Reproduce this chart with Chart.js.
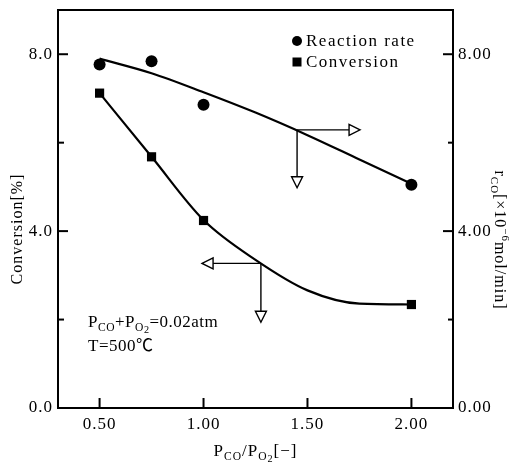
<!DOCTYPE html>
<html><head><meta charset="utf-8">
<script src="https://cdn.jsdelivr.net/npm/chart.js@4/dist/chart.umd.min.js"></script>
<style>html,body{margin:0;padding:0;background:#fff;}#wrap{width:518px;height:464px;position:relative;}</style>
</head><body><div id="wrap"><canvas id="c" width="518" height="464"></canvas></div>
<script>
// ---- data ----
const ratioX = [0.5, 0.75, 1.0, 2.0];
const reactionRate = [7.77, 7.84, 6.86, 5.05];   // right axis, x10^-6 mol/min
const conversion = [7.12, 5.68, 4.24, 2.34];     // left axis, %
const fitX = [0.5, 0.75, 1.0, 1.25, 1.5, 1.75, 2.0];
const rateFit = [7.90, 7.57, 7.14, 6.68, 6.17, 5.62, 5.07];
const convFit = [7.12, 5.68, 4.25, 3.35, 2.66, 2.36, 2.34];
const xTicks = [0.5, 1.0, 1.5, 2.0];
const xTickLabels = ['0.50', '1.00', '1.50', '2.00'];
const yTicks = [0, 2, 4, 6, 8];
const leftTickLabels = {0: '0.0', 4: '4.0', 8: '8.0'};
const rightTickLabels = {0: '0.00', 4: '4.00', 8: '8.00'};
const seriesNames = ['Reaction rate', 'Conversion'];
// arrows: start point on curve, tip positions
const arrowFromX = [1.45, 1.276];
const arrowFromY = [6.29, 3.27];
const arrowToX = [1.753, 0.993];
const arrowToY = [4.98, 1.94];
const arrowAxis = ['y2', 'y'];

const FONT = "'Liberation Serif', 'Noto Sans CJK SC', serif";

function richWidth(ctx, segs, size) {
  let w = 0;
  for (const s of segs) {
    const fs = s.sub || s.sup ? size * (s.small ? 0.6 : 0.68) : size;
    ctx.font = fs + 'px ' + FONT;
    w += ctx.measureText(s.t).width;
  }
  return w;
}
function drawRich(ctx, segs, x, y, size, align) {
  const w = richWidth(ctx, segs, size);
  let cx = align === 'center' ? x - w / 2 : x;
  ctx.textAlign = 'left';
  ctx.textBaseline = 'alphabetic';
  for (const s of segs) {
    const fs = s.sub || s.sup ? size * (s.small ? 0.6 : 0.68) : size;
    ctx.font = fs + 'px ' + FONT;
    let dy = 0;
    if (s.sub) dy = size * (s.small ? 0.38 : 0.25);
    if (s.sup) dy = -size * 0.42;
    ctx.fillText(s.t, cx, y + dy);
    cx += ctx.measureText(s.t).width;
  }
}

const decorPlugin = {
  id: 'decor',
  beforeDraw(chart) { chart.ctx.letterSpacing = '1px'; },
  afterDatasetsDraw(chart) {
    const ctx = chart.ctx;
    const xs = chart.scales.x;
    ctx.save();
    ctx.strokeStyle = '#000';
    ctx.fillStyle = '#000';
    // arrows
    ctx.lineWidth = 1.4;
    for (let i = 0; i < arrowFromX.length; i++) {
      const ys = chart.scales[arrowAxis[i]];
      const px = xs.getPixelForValue(arrowFromX[i]);
      const py = ys.getPixelForValue(arrowFromY[i]);
      const tx = xs.getPixelForValue(arrowToX[i]);
      const ty = ys.getPixelForValue(arrowToY[i]);
      const dir = tx > px ? 1 : -1;
      const hl = 11, hw = 5.5;
      ctx.beginPath(); ctx.moveTo(px, py); ctx.lineTo(tx - dir * hl, py); ctx.stroke();
      ctx.beginPath(); ctx.moveTo(tx, py); ctx.lineTo(tx - dir * hl, py - hw); ctx.lineTo(tx - dir * hl, py + hw); ctx.closePath();
      ctx.fillStyle = '#fff'; ctx.fill(); ctx.stroke();
      ctx.beginPath(); ctx.moveTo(px, py); ctx.lineTo(px, ty - hl); ctx.stroke();
      ctx.beginPath(); ctx.moveTo(px, ty); ctx.lineTo(px - hw, ty - hl); ctx.lineTo(px + hw, ty - hl); ctx.closePath();
      ctx.fill(); ctx.stroke();
    }
    ctx.restore();
  },
  afterDraw(chart) {
    const ctx = chart.ctx;
    const a = chart.chartArea;
    const xs = chart.scales.x, yl = chart.scales.y, yr = chart.scales.y2;
    ctx.save();
    ctx.strokeStyle = '#000'; ctx.fillStyle = '#000';
    // top frame line
    ctx.lineWidth = 2;
    ctx.beginPath(); ctx.moveTo(a.left - 1, a.top); ctx.lineTo(a.right + 1, a.top); ctx.stroke();
    // inward tick marks
    ctx.lineWidth = 2;
    for (const t of xs.ticks) {
      const p = xs.getPixelForValue(t.value);
      ctx.beginPath(); ctx.moveTo(p, a.bottom); ctx.lineTo(p, a.bottom - 10); ctx.stroke();
    }
    for (const t of yl.ticks) {
      const p = yl.getPixelForValue(t.value);
      const len = leftTickLabels[t.value] ? 10 : 6;
      ctx.beginPath(); ctx.moveTo(a.left, p); ctx.lineTo(a.left + len, p); ctx.stroke();
    }
    for (const t of yr.ticks) {
      const p = yr.getPixelForValue(t.value);
      const len = rightTickLabels[t.value] ? 10 : 5;
      ctx.beginPath(); ctx.moveTo(a.right, p); ctx.lineTo(a.right - len, p); ctx.stroke();
    }
    // legend
    ctx.letterSpacing = '1.5px';
    const lx = a.left + 239, ly1 = a.top + 31, ly2 = a.top + 52;
    ctx.beginPath(); ctx.arc(lx, ly1, 5, 0, Math.PI * 2); ctx.fill();
    ctx.fillRect(lx - 4.5, ly2 - 4.5, 9, 9);
    ctx.font = '17px ' + FONT; ctx.textAlign = 'left'; ctx.textBaseline = 'middle';
    ctx.fillText(seriesNames[0], lx + 9, ly1 + 1);
    ctx.fillText(seriesNames[1], lx + 9, ly2 + 1);
    // annotation
    ctx.letterSpacing = '0.5px';
    drawRich(ctx, [{t: 'P'}, {t: 'CO', sub: true}, {t: '+P'}, {t: 'O', sub: true}, {t: '2', sub: true, small: true}, {t: '=0.02atm'}], a.left + 30, 327, 17, 'left');
    drawRich(ctx, [{t: 'T=500℃'}], a.left + 30, 351, 17, 'left');
    // x title
    ctx.letterSpacing = '1px';
    drawRich(ctx, [{t: 'P'}, {t: 'CO', sub: true}, {t: '/P'}, {t: 'O', sub: true}, {t: '2', sub: true, small: true}, {t: '[−]'}], (a.left + a.right) / 2, 456, 17, 'center');
    // left title
    ctx.save();
    ctx.translate(22, 229);
    ctx.rotate(-Math.PI / 2);
    drawRich(ctx, [{t: 'Conversion[%]'}], 0, 0, 16, 'center');
    ctx.restore();
    // right title
    ctx.save();
    ctx.translate(495, 240);
    ctx.rotate(Math.PI / 2);
    drawRich(ctx, [{t: 'r'}, {t: 'CO', sub: true}, {t: '[×10'}, {t: '−6', sup: true}, {t: 'mol/min]'}], 0, 0, 16, 'center');
    ctx.restore();
    ctx.restore();
    ctx.letterSpacing = '0px';
  }
};

const tickFont = {family: FONT, size: 17};

new Chart(document.getElementById('c'), {
  data: {
    datasets: [
      {type: 'line', label: 'rate fit', data: fitX.map((x, i) => ({x, y: rateFit[i]})), yAxisID: 'y2',
       borderColor: '#000', borderWidth: 2.2, pointRadius: 0, cubicInterpolationMode: 'monotone', fill: false},
      {type: 'line', label: 'conversion fit', data: fitX.map((x, i) => ({x, y: convFit[i]})), yAxisID: 'y',
       borderColor: '#000', borderWidth: 2.2, pointRadius: 0, cubicInterpolationMode: 'monotone', fill: false},
      {type: 'scatter', label: seriesNames[0], data: ratioX.map((x, i) => ({x, y: reactionRate[i]})), yAxisID: 'y2',
       pointStyle: 'circle', pointRadius: 6, backgroundColor: '#000', borderColor: '#000', borderWidth: 0},
      {type: 'scatter', label: seriesNames[1], data: ratioX.map((x, i) => ({x, y: conversion[i]})), yAxisID: 'y',
       pointStyle: 'rect', pointRadius: 6.5, backgroundColor: '#000', borderColor: '#000', borderWidth: 0}
    ]
  },
  options: {
    responsive: false,
    animation: false,
    events: [],
    layout: {padding: {top: 0, left: 0, right: 0, bottom: 0}},
    plugins: {legend: {display: false}, tooltip: {enabled: false}},
    scales: {
      x: {
        type: 'linear', position: 'bottom', min: 0.3, max: 2.2,
        afterBuildTicks: s => { s.ticks = xTicks.map(v => ({value: v})); },
        ticks: {callback: (v, i) => xTickLabels[i], font: tickFont, color: '#000', padding: 6, maxRotation: 0, autoSkip: false},
        grid: {display: false, drawTicks: false},
        border: {display: true, width: 2, color: '#000'},
        afterFit: s => { s.height = 56; }
      },
      y: {
        type: 'linear', position: 'left', min: 0, max: 9,
        afterBuildTicks: s => { s.ticks = yTicks.map(v => ({value: v})); },
        ticks: {callback: v => leftTickLabels[v] || '', font: tickFont, color: '#000', padding: 5, autoSkip: false},
        grid: {display: false, drawTicks: false},
        border: {display: true, width: 2, color: '#000'},
        afterFit: s => { s.width = 58; s.paddingTop = 10; }
      },
      y2: {
        type: 'linear', position: 'right', min: 0, max: 9,
        afterBuildTicks: s => { s.ticks = yTicks.map(v => ({value: v})); },
        ticks: {callback: v => rightTickLabels[v] || '', font: tickFont, color: '#000', padding: 5, autoSkip: false},
        grid: {display: false, drawTicks: false},
        border: {display: true, width: 2, color: '#000'},
        afterFit: s => { s.width = 65; s.paddingTop = 10; }
      }
    }
  },
  plugins: [decorPlugin]
});
</script>
</body></html>
